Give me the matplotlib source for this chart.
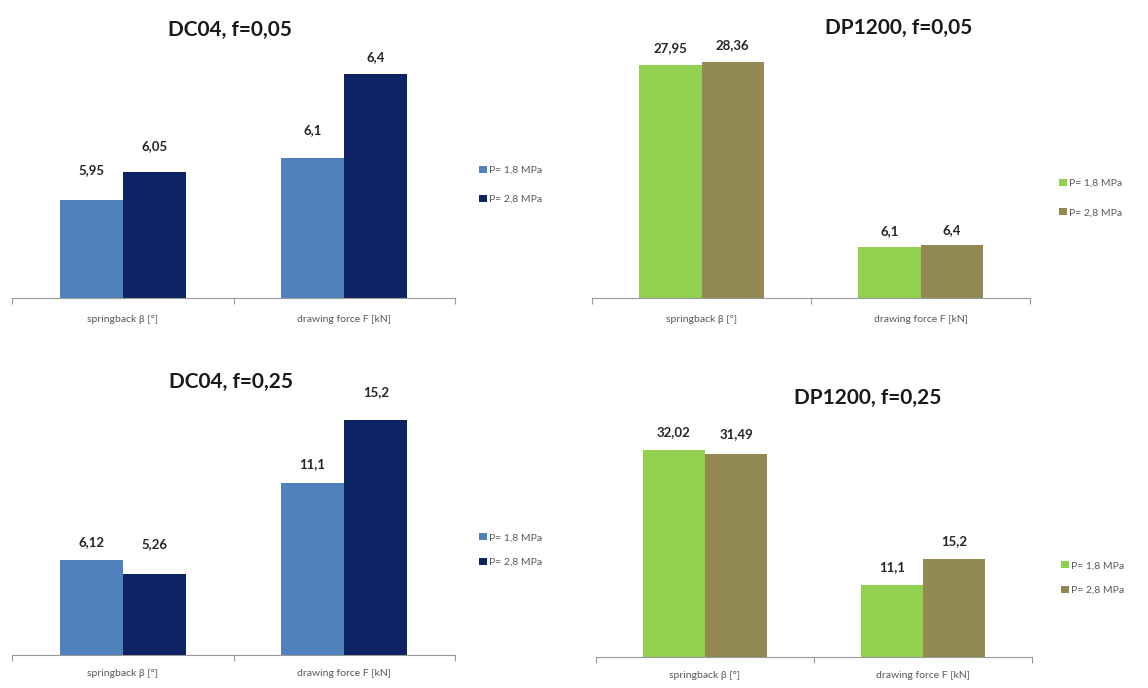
import matplotlib.pyplot as plt
import numpy as np

# datos
categories = ["springback β [°]", "drawing force F [kN]"]
series_labels = ["P= 1,8 MPa", "P= 2,8 MPa"]

titles = ["DC04, f=0,05", "DP1200, f=0,05", "DC04, f=0,25", "DP1200, f=0,25"]
p18 = [[5.95, 6.1], [27.95, 6.1], [6.12, 11.1], [32.02, 11.1]]
p28 = [[6.05, 6.4], [28.36, 6.4], [5.26, 15.2], [31.49, 15.2]]
value_text_18 = [["5,95", "6,1"], ["27,95", "6,1"], ["6,12", "11,1"], ["32,02", "11,1"]]
value_text_28 = [["6,05", "6,4"], ["28,36", "6,4"], ["5,26", "15,2"], ["31,49", "15,2"]]

W, H = 1148, 688
blue_cols = ["#4F81BD", "#0D2363"]
green_cols = ["#92D050", "#938953"]

# layout en pixeles: (x0, x1, ytop, ybottom), ylim, titulo (x, y), leyenda (x, y, spacing)
panels = [
    dict(box=(12, 455, 40, 298), ylim=(5.6, 6.52), title=(230, 30), leg=(470, 185, 1.9),
         cols=blue_cols, offs=[(30, 26), (28, 17)], pad=12),
    dict(box=(592, 1030, 40, 298), ylim=(0, 31.0), title=(899, 28), leg=(1050, 198, 1.9),
         cols=green_cols, offs=[(17, 17), (16, 15)], pad=12),
    dict(box=(12, 455, 395, 655), ylim=(0, 16.8), title=(231, 382), leg=(470, 550, 1.5),
         cols=blue_cols, offs=[(18, 30), (19, 28)], pad=10),
    dict(box=(596, 1032, 400, 657), ylim=(0, 39.8), title=(868, 398), leg=(1052, 578, 1.5),
         cols=green_cols, offs=[(18, 20), (18, 18)], pad=10),
]

fam = ["Lato", "DejaVu Sans"]
plt.rcParams['font.family'] = fam

fig = plt.figure(figsize=(W / 100, H / 100), dpi=100)
x = np.arange(len(categories))
bw = 0.285

for i, p in enumerate(panels):
    x0, x1, yt, yb = p["box"]
    ax = fig.add_axes([x0 / W, 1 - yb / H, (x1 - x0) / W, (yb - yt) / H])
    ax.bar(x - bw / 2, p18[i], bw, color=p["cols"][0], label=series_labels[0])
    ax.bar(x + bw / 2, p28[i], bw, color=p["cols"][1], label=series_labels[1])
    for j in range(len(categories)):
        ax.annotate(value_text_18[i][j], (x[j] - bw / 2, p18[i][j]),
                    xytext=(0, p["offs"][j][0]), textcoords="offset pixels",
                    ha="center", va="center", fontsize=9.5, fontweight="bold", color="#262626")
        ax.annotate(value_text_28[i][j], (x[j] + bw / 2, p28[i][j]),
                    xytext=(0, p["offs"][j][1]), textcoords="offset pixels",
                    ha="center", va="center", fontsize=9.5, fontweight="bold", color="#262626")
    ax.set_xlim(-0.5, 1.5)
    ax.set_ylim(*p["ylim"])
    for s in ["top", "right", "left"]:
        ax.spines[s].set_visible(False)
    ax.spines["bottom"].set_color("#9a9a9a")
    ax.set_yticks([])
    ax.set_xticks([-0.5, 0.5, 1.5])
    ax.set_xticklabels([])
    ax.tick_params(axis="x", length=4, color="#9a9a9a")
    ax.set_xticks(x, minor=True)
    ax.set_xticklabels(categories, minor=True, fontsize=7.5, color="#595959")
    ax.tick_params(axis="x", which="minor", length=0, pad=p["pad"])

    tx, ty = p["title"]
    fig.text(tx / W, 1 - ty / H, titles[i], ha="center", va="center",
             fontsize=15, fontweight="bold", color="#1a1a1a")

    lx, ly, sp = p["leg"]
    ax.legend(loc="center left", bbox_to_anchor=(lx / W, 1 - ly / H),
              bbox_transform=fig.transFigure, frameon=False, fontsize=7.5,
              handlelength=0.7, handleheight=0.7, handletextpad=0.2,
              labelspacing=sp, labelcolor="#595959")

fig.savefig("out.png", dpi=100)
print("Execution successful")
